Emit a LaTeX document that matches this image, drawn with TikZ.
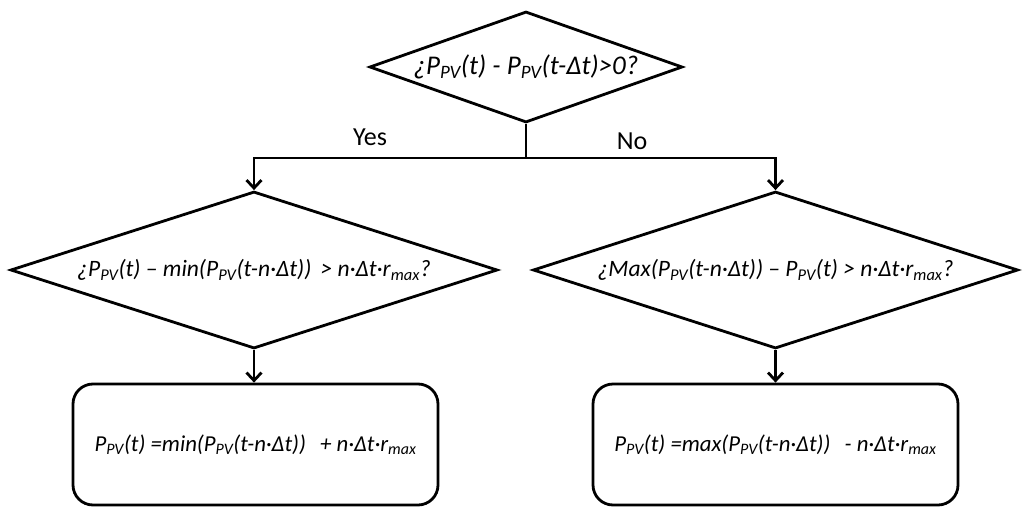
\documentclass[tikz,border=0pt]{standalone}
\usepackage{fontspec}
\setmainfont{Carlito}
\usetikzlibrary{shapes.geometric,arrows.meta}
\newcommand{\ppv}{P\textsubscript{PV}}
\newcommand{\rmx}{r\textsubscript{max}}

\begin{document}
\begin{tikzpicture}[x=1pt,y=-1pt,line width=2.8pt,>={Straight Barb[length=8pt,width=15pt]}]
\tikzstyle{ask}=[diamond,draw,inner sep=0pt,font=\itshape\fontsize{23.5}{26}\selectfont]
\tikzstyle{result}=[rectangle,draw,rounded corners=20pt,minimum width=365pt,minimum height=121pt,font=\itshape\fontsize{22.8}{26}\selectfont]
\tikzstyle{tag}=[font=\fontsize{26}{30}\selectfont]
\useasboundingbox (0,0) rectangle (1024,527);
\node[ask,aspect=2.82,minimum width=313pt,minimum height=111pt,font=\itshape\fontsize{27}{30}\selectfont](Q) at (526,67) {¿\ppv(t) - \ppv(t-Δt)>0?};
\node[ask,aspect=3.1,minimum width=487pt,minimum height=157pt](QY) at (254,270) {¿\ppv(t) – min(\ppv(t-n·Δt)) \,> n·Δt·\rmx?};
\node[ask,aspect=3.09,minimum width=485pt,minimum height=157pt](QN) at (775.5,270) {¿Max(\ppv(t-n·Δt)) – \ppv(t) > n·Δt·\rmx?};
\node[result](RY) at (255.5,444.5) {\ppv(t) =min(\ppv(t-n·Δt)) \, + n·Δt·\rmx};
\node[result](RN) at (775.5,444.5) {\ppv(t) =max(\ppv(t-n·Δt)) \, - n·Δt·\rmx};
\coordinate (J) at (526,158);
\node[tag] (yes) at (370,137) {Yes};
\node[tag] (no) at (632,141) {No};

\draw (Q.south) -- (J);
\draw[->] (J) -| (QY.north);
\draw[->] (J) -| (QN.north);
\draw[->] (QY.south) -- (QY.south |- RY.north);
\draw[->] (QN.south) -- (QN.south |- RN.north);
\end{tikzpicture}
\end{document}
